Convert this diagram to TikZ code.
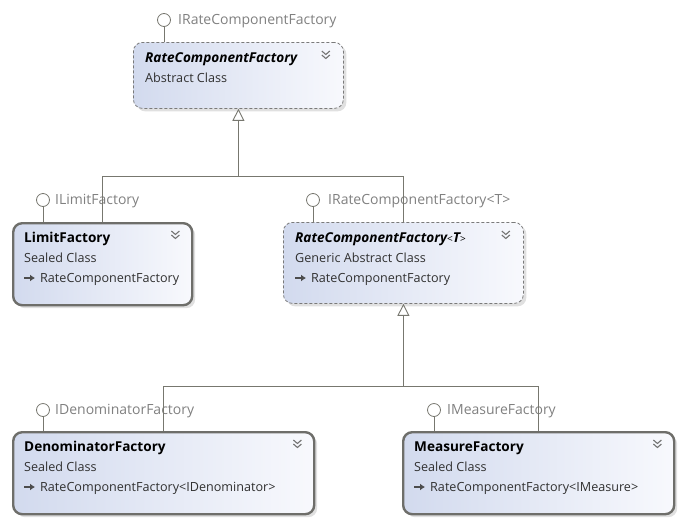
\documentclass[tikz,border=0pt]{standalone}
\usepackage{fontspec}
\setmainfont{Open Sans}
\usetikzlibrary{arrows.meta,shadows,calc}
\definecolor{boxL}{HTML}{D2DAEE}
\definecolor{boxR}{HTML}{F8F9FD}
\definecolor{sealc}{HTML}{6E6E6A}
\definecolor{dashc}{HTML}{7A7A7A}
\definecolor{linec}{HTML}{77776F}
\definecolor{lblc}{HTML}{808080}
\definecolor{subc}{HTML}{303030}
\begin{document}
\begin{tikzpicture}[x=1pt,y=-1pt,
  classbox/.style={rectangle, rounded corners=9pt, left color=boxL, right color=boxR,
    anchor=north west, inner sep=0pt, minimum width=#1,
    drop shadow={shadow xshift=3pt, shadow yshift=-3pt, fill=black!12, opacity=1}},
  sealedbox/.style={classbox=#1, draw=sealc, line width=2.4pt},
  abstractbox/.style={classbox=#1, draw=dashc, line width=0.8pt, dash pattern=on 3pt off 2pt},
  titletext/.style={anchor=base west, inner sep=0pt, font=\fontsize{13.6}{16}\selectfont\bfseries, text=black},
  subtext/.style={anchor=base west, inner sep=0pt, font=\fontsize{12.6}{15}\selectfont, text=subc},
  lbltext/.style={anchor=west, inner sep=0pt, font=\fontsize{14}{16}\selectfont, text=lblc},
  lolli/.style={draw=linec, line width=0.8pt, fill=white},
  conn/.style={draw=linec, line width=0.9pt},
  gen/.style={conn, -{Triangle[length=12pt,width=12pt,fill=white,line width=0.9pt]}},
  chevline/.style={draw=black!55, line width=1.1pt},
  chev/.pic={\draw[chevline] (-4,0)--(0,3.5)--(4,0); \draw[chevline] (-4,4)--(0,7.5)--(4,4);},
  baseicon/.style={draw=black!70, line width=1.3pt, -{Latex[length=5pt,width=7pt]}}
]
\useasboundingbox (0,0) rectangle (684,525);

% boxes
\node[abstractbox=210pt, minimum height=66pt] (rcf) at (133,42) {};
\node[sealedbox=179pt, minimum height=82pt] (lim) at (12,222) {};
\node[abstractbox=240pt, minimum height=81pt] (rcft) at (283,222) {};
\node[sealedbox=301pt, minimum height=82pt] (den) at (12,431) {};
\node[sealedbox=271pt, minimum height=82pt] (mea) at (402,431) {};

% texts
\node[titletext] (rcfT) at ($(rcf.north west)+(12,20.5)$) {\itshape RateComponentFactory};
\node[subtext] (rcfS) at ($(rcf.north west)+(12,40.5)$) {Abstract Class};

\node[titletext] (limT) at ($(lim.north west)+(12,20.5)$) {LimitFactory};
\node[subtext] (limS) at ($(lim.north west)+(12,40.5)$) {Sealed Class};
\node[subtext] (limB) at ($(lim.north west)+(28,60.5)$) {RateComponentFactory};

\node[titletext] (rcftT) at ($(rcft.north west)+(12,20.5)$) {\itshape RateComponentFactory{\fontsize{10}{12}\selectfont\upshape\mdseries<}T{\fontsize{10}{12}\selectfont\upshape\mdseries>}};
\node[subtext] (rcftS) at ($(rcft.north west)+(12,40.5)$) {Generic Abstract Class};
\node[subtext] (rcftB) at ($(rcft.north west)+(28,60.5)$) {RateComponentFactory};

\node[titletext] (denT) at ($(den.north west)+(12,20.5)$) {DenominatorFactory};
\node[subtext] (denS) at ($(den.north west)+(12,40.5)$) {Sealed Class};
\node[subtext] (denB) at ($(den.north west)+(28,60.5)$) {RateComponentFactory<IDenominator>};

\node[titletext] (meaT) at ($(mea.north west)+(12,20.5)$) {MeasureFactory};
\node[subtext] (meaS) at ($(mea.north west)+(12,40.5)$) {Sealed Class};
\node[subtext] (meaB) at ($(mea.north west)+(28,60.5)$) {RateComponentFactory<IMeasure>};

% base icons
\foreach \b in {limB,rcftB,denB,meaB}{
  \draw[baseicon] ($(\b.base west)+(-16,-4.5)$) -- ($(\b.base west)+(-5,-4.5)$);
}

% chevrons
\foreach \b in {rcf,lim,rcft,den,mea}{
  \pic at ($(\b.north east)+(-18,9)$) {chev};
}

% lollipops
\node[lolli, circle, minimum size=13pt, inner sep=0pt] (irc) at (164,20) {};
\node[lbltext] (ircL) at (178,21) {IRateComponentFactory};
\draw[conn] (irc.south) -- (irc.south |- rcf.north);

\node[lolli, circle, minimum size=13pt, inner sep=0pt] (ilf) at (43,200) {};
\node[lbltext] (ilfL) at (55,201) {ILimitFactory};
\draw[conn] (ilf.south) -- (ilf.south |- lim.north);

\node[lolli, circle, minimum size=13pt, inner sep=0pt] (irct) at (313,200) {};
\node[lbltext] (irctL) at (328,201) {IRateComponentFactory<T>};
\draw[conn] (irct.south) -- (irct.south |- rcft.north);

\node[lolli, circle, minimum size=13pt, inner sep=0pt] (idf) at (43,410) {};
\node[lbltext] (idfL) at (55,411) {IDenominatorFactory};
\draw[conn] (idf.south) -- (idf.south |- den.north);

\node[lolli, circle, minimum size=13pt, inner sep=0pt] (imf) at (434,410) {};
\node[lbltext] (imfL) at (447,411) {IMeasureFactory};
\draw[conn] (imf.south) -- (imf.south |- mea.north);

% generalizations
\coordinate (j1) at ($(rcf.south)+(0,68)$);
\draw[conn] (lim.north) |- (j1);
\draw[conn] (rcft.north) |- (j1);
\draw[gen] (j1) -- (rcf.south);

\coordinate (j2) at ($(rcft.south)+(0,83)$);
\draw[conn] (den.north) |- (j2);
\draw[conn] (mea.north) |- (j2);
\draw[gen] (j2) -- (rcft.south);
\end{tikzpicture}
\end{document}
